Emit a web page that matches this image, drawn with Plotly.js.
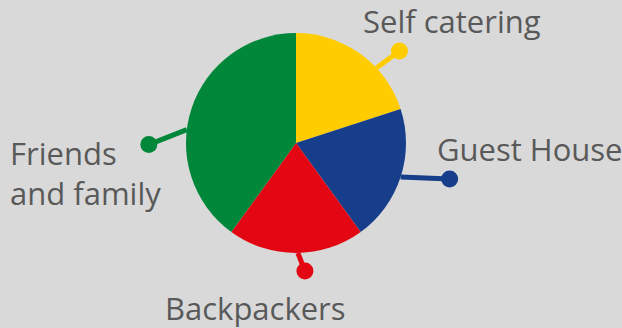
<!DOCTYPE html>
<html>
<head>
<meta charset="utf-8">
<script src="https://cdn.plot.ly/plotly-3.0.1.min.js"></script>
<style>html,body{margin:0;padding:0;background:#d9d9d9;}#chart{width:622px;height:328px;}</style>
</head>
<body>
<div id="chart"></div>
<script>
// Data
const categories = ["Self catering", "Guest House", "Backpackers", "Friends and family"];
const labelText = ["Self catering", "Guest House", "Backpackers", "Friends<br>and family"];
const shares = [20, 20, 20, 40];
const colors = ["#ffcc00", "#163e8a", "#e30613", "#00873a"];

// Layout/style (pixel geometry)
const W = 622, H = 328;
const cx = 296, cy = 143, R = 110;
// leader: angular offset from slice middle (deg), then vector to dot (px)
const leaderDelta = [11, 0, -1, -11];
const leaderVec = [[23, -17], [49, 2], [7, 18], [-38, 15]];
// label left x and box-middle y (px)
const labelPos = [[361, 21], [435, 148.6], [163, 307.5], [8, 173]];
const fontSize = 31;

const total = shares.reduce((a, b) => a + b, 0);
let cum = 0;
const traces = [{
  type: "pie",
  values: shares,
  labels: categories,
  sort: false,
  direction: "clockwise",
  rotation: 0,
  textinfo: "none",
  hoverinfo: "none",
  showlegend: false,
  marker: {colors: colors, line: {width: 0}},
  domain: {x: [(cx - R) / W, (cx + R) / W], y: [(H - cy - R) / H, (H - cy + R) / H]}
}];
const annotations = [];
shares.forEach((v, i) => {
  const mid = (cum + v / 2) / total * 360;
  cum += v;
  const a = (mid + leaderDelta[i]) * Math.PI / 180;
  const sx = cx + R * Math.sin(a), sy = cy - R * Math.cos(a);
  const ex = sx + leaderVec[i][0], ey = sy + leaderVec[i][1];
  traces.push({
    type: "scatter", mode: "lines+markers",
    x: [sx, ex], y: [sy, ey],
    line: {color: colors[i], width: 5},
    marker: {color: colors[i], size: [0, 17], opacity: 1, line: {width: 0}},
    hoverinfo: "skip", showlegend: false, cliponaxis: false
  });
  annotations.push({
    xref: "x", yref: "y", x: labelPos[i][0], y: labelPos[i][1],
    xanchor: "left", yanchor: "middle", align: "left",
    text: labelText[i], showarrow: false,
    font: {family: "Open Sans", size: fontSize, color: "#595959"}
  });
});

const layout = {
  width: W, height: H,
  margin: {l: 0, r: 0, t: 0, b: 0},
  paper_bgcolor: "#d9d9d9", plot_bgcolor: "rgba(0,0,0,0)",
  xaxis: {range: [0, W], visible: false, fixedrange: true},
  yaxis: {range: [H, 0], visible: false, fixedrange: true},
  annotations: annotations,
  showlegend: false
};
Plotly.newPlot("chart", traces, layout, {displayModeBar: false, staticPlot: true});
</script>
</body>
</html>
